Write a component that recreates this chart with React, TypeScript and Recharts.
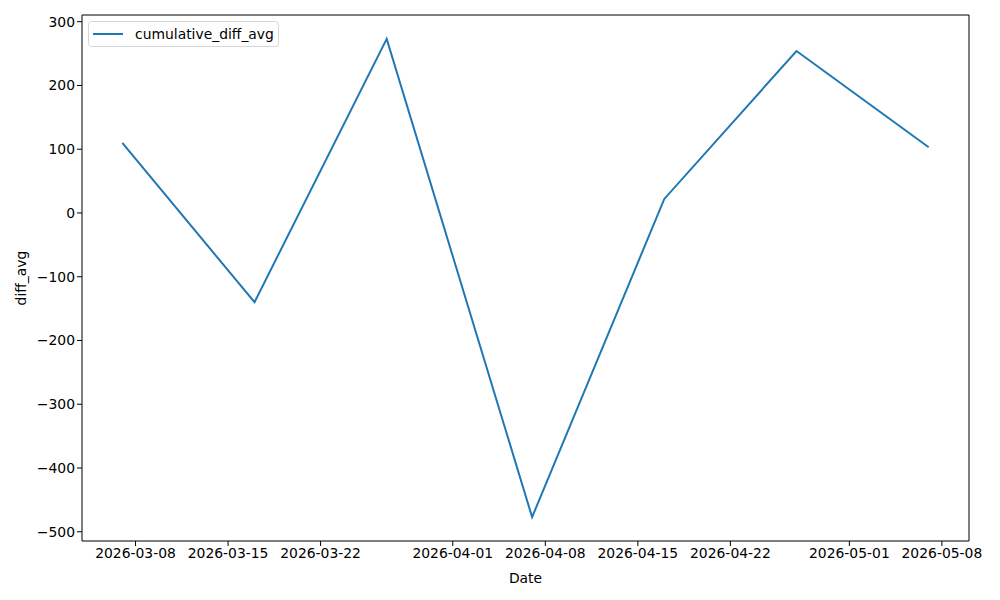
import { LineChart, Line, XAxis, YAxis, ReferenceArea } from 'recharts'

const dates = ['2026-03-07', '2026-03-17', '2026-03-27', '2026-04-07', '2026-04-17', '2026-04-27', '2026-05-07']
const cumulativeDiffAvg = [110, -140, 273, -477, 22, 254, 103]
const xTickDates = ['2026-03-08', '2026-03-15', '2026-03-22', '2026-04-01', '2026-04-08', '2026-04-15', '2026-04-22', '2026-05-01', '2026-05-08']
const yTicks = [-500, -400, -300, -200, -100, 0, 100, 200, 300]

const toTs = (s: string) => {
  const [y, m, d] = s.split('-').map(Number)
  return Date.UTC(y, m - 1, d)
}

const data = dates.map((d, i) => ({ t: toTs(d), cumulative_diff_avg: cumulativeDiffAvg[i] }))

// 5% padding on both axes, like matplotlib's default margins
const tMin = toTs(dates[0])
const tMax = toTs(dates[dates.length - 1])
const tPad = (tMax - tMin) * 0.05
const xDomain: [number, number] = [tMin - tPad, tMax + tPad]
const yDomain: [number, number] = [-514.5, 310.5]

const FONT = 'DejaVu Sans, sans-serif'
const tickStyle = { fill: '#000', fontSize: 13.9, fontFamily: FONT }

const fmtDate = (t: number) => new Date(t).toISOString().slice(0, 10)
const fmtY = (v: number) => (v < 0 ? '\u2212' + Math.abs(v) : String(v))

// legend drawn as an overlay so it doesn't eat into the plot margins
function LegendBox() {
  return (
    <svg width={192} height={26} style={{ position: 'absolute', left: 88, top: 21 }}>
      <rect x={0.5} y={0.5} width={190} height={25} rx={3} fill="#fff" fillOpacity={0.8} stroke="#d6d6d6" />
      <line x1={5} x2={35} y1={13} y2={13} stroke="#1f77b4" strokeWidth={2} />
      <text x={47} y={18} fontSize={13.9} fontFamily={FONT} fill="#000">cumulative_diff_avg</text>
    </svg>
  )
}

export default function App() {
  return (
    <div style={{ position: 'absolute', left: 0, top: 0, width: 1000, height: 600, background: '#fff' }}>
      <LineChart width={1000} height={600} data={data} margin={{ top: 15, right: 31, left: 0, bottom: 0 }}>
        <XAxis
          dataKey="t"
          type="number"
          scale="time"
          domain={xDomain}
          ticks={xTickDates.map(toTs)}
          tickFormatter={fmtDate}
          tick={tickStyle}
          tickLine={{ stroke: '#000' }}
          tickSize={5}
          axisLine={false}
          height={59}
          interval={0}
          allowDataOverflow
          label={{ value: 'Date', position: 'insideBottom', offset: 17, fill: '#000', fontSize: 13.9, fontFamily: FONT }}
        />
        <YAxis
          type="number"
          domain={yDomain}
          ticks={yTicks}
          tickFormatter={fmtY}
          tick={tickStyle}
          tickLine={{ stroke: '#000' }}
          tickSize={5}
          axisLine={false}
          width={82}
          interval={0}
          allowDataOverflow
          label={{ value: 'diff_avg', angle: -90, position: 'insideLeft', offset: 21, fill: '#000', fontSize: 13.9, fontFamily: FONT, style: { textAnchor: 'middle' } }}
        />
        <ReferenceArea
          x1={xDomain[0]}
          x2={xDomain[1]}
          y1={yDomain[0]}
          y2={yDomain[1]}
          fill="none"
          stroke="#000"
          strokeWidth={1}
          ifOverflow="visible"
        />
        <Line
          type="linear"
          dataKey="cumulative_diff_avg"
          stroke="#1f77b4"
          strokeWidth={2}
          dot={false}
          activeDot={false}
          isAnimationActive={false}
        />
      </LineChart>
      <LegendBox />
    </div>
  )
}
